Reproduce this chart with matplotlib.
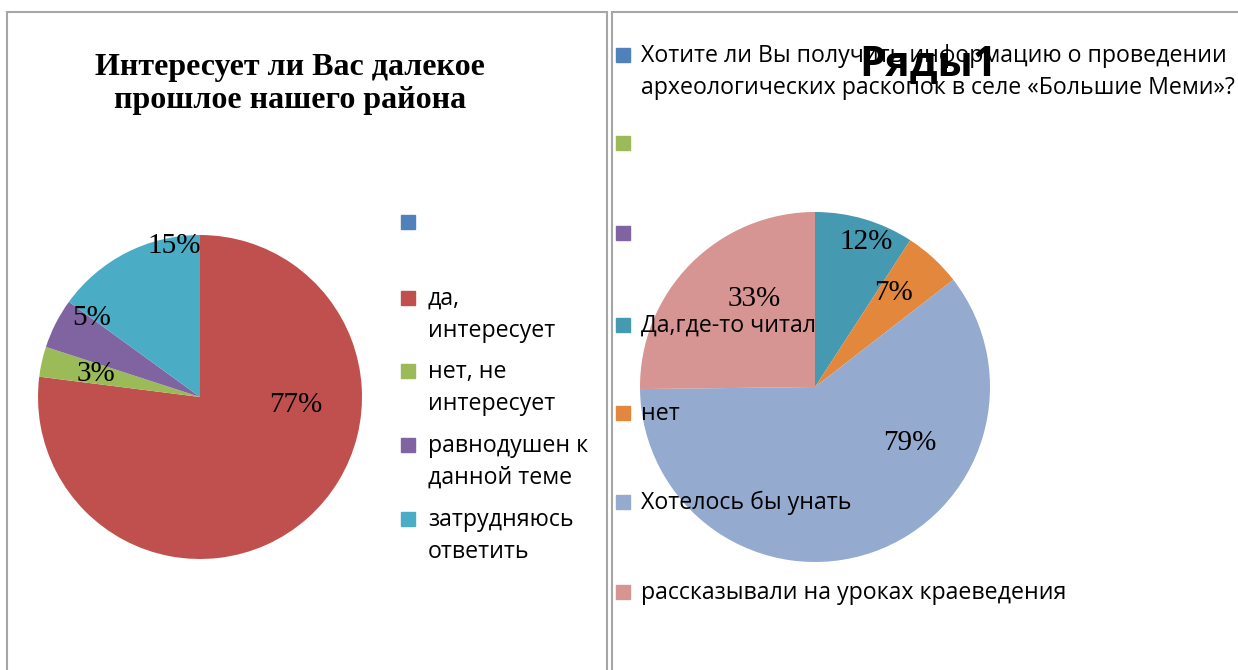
import matplotlib
matplotlib.use('Agg')
import matplotlib.pyplot as plt
from matplotlib.patches import Rectangle

# данные
left_title = 'Интересует ли Вас далекое\nпрошлое нашего района'
left_labels = ['', 'да,\nинтересует', 'нет, не\nинтересует', 'равнодушен к\nданной теме', 'затрудняюсь\nответить']
left_values = [0, 77, 3, 5, 15]
left_colors = ['#4F81BD', '#C0504D', '#9BBB59', '#8064A2', '#4BACC6']

right_title = 'Ряды1'
right_labels = ['Хотите ли Вы получить информацию о проведении\nархеологических раскопок в селе «Большие Меми»?',
                '', '', 'Да,где-то читал', 'нет', 'Хотелось бы унать',
                'рассказывали на уроках краеведения']
right_values = [0, 0, 0, 12, 7, 79, 33]
right_colors = ['#4F81BD', '#9BBB59', '#8064A2', '#4599B1', '#E2873B', '#94AACF', '#D69492']

W, H = 1238, 670
fig = plt.figure(figsize=(W / 100, H / 100), dpi=100)
fig.patch.set_facecolor('white')


def fx(x):
    return x / W


def fy(y):
    return 1 - y / H


sans = ['Open Sans', 'DejaVu Sans']
serif = ['Liberation Serif', 'DejaVu Serif']

# рамки
for x0, x1 in [(7, 607), (612, 1250)]:
    fig.patches.append(Rectangle((fx(x0), fy(690)), fx(x1 - x0), (690 - 12) / H,
                                 transform=fig.transFigure, fill=False,
                                 edgecolor='#a6a6a6', lw=1.5))


def draw_pie(cx, cy, r, values, colors, label_pos, fs):
    ax = fig.add_axes([fx(cx - r), fy(cy + r), 2 * r / W, 2 * r / H])
    total = sum(values)
    wedges, texts, autotexts = ax.pie(
        values, colors=colors, startangle=90, counterclock=False,
        autopct=lambda p: '' if p == 0 else '%d%%' % round(p * total / 100),
        textprops=dict(fontsize=fs, family=serif, color='black'))
    ax.set_xlim(-1, 1)
    ax.set_ylim(-1, 1)
    k = 0
    for t, v in zip(autotexts, values):
        if v > 0:
            t.set_position(label_pos[k])
            k += 1
    return ax


# левая диаграмма
draw_pie(200, 397, 162, left_values, left_colors,
         [(0.59, -0.05), (-0.64, 0.14), (-0.67, 0.49), (-0.16, 0.93)], 21)
fig.text(fx(290), fy(84), left_title, ha='center', va='center', fontsize=23,
         fontweight='bold', family=serif, linespacing=1.22)

# правая диаграмма
draw_pie(815, 387, 175, right_values, right_colors,
         [(0.29, 0.83), (0.45, 0.54), (0.54, -0.32), (-0.35, 0.50)], 21)


def draw_legend(labels, colors, ys, xm, xt, fs):
    for lab, col, y in zip(labels, colors, ys):
        fig.patches.append(Rectangle((fx(xm), fy(y + 7)), 14 / W, 14 / H,
                                     transform=fig.transFigure, color=col, zorder=5))
        fig.text(fx(xt), fy(y - 11), lab, ha='left', va='top', fontsize=fs,
                 family=sans, linespacing=1.45, zorder=6)


draw_legend(left_labels, left_colors, [222, 298, 371, 445, 519], 401, 428, 16.7)
draw_legend(right_labels, right_colors, [55, 143, 233, 325, 413, 502, 592], 616, 641, 16.7)

fig.text(fx(928), fy(65), right_title, ha='center', va='center', fontsize=30,
         fontweight='bold', family=sans, zorder=7)

fig.savefig('out.png', dpi=100)
